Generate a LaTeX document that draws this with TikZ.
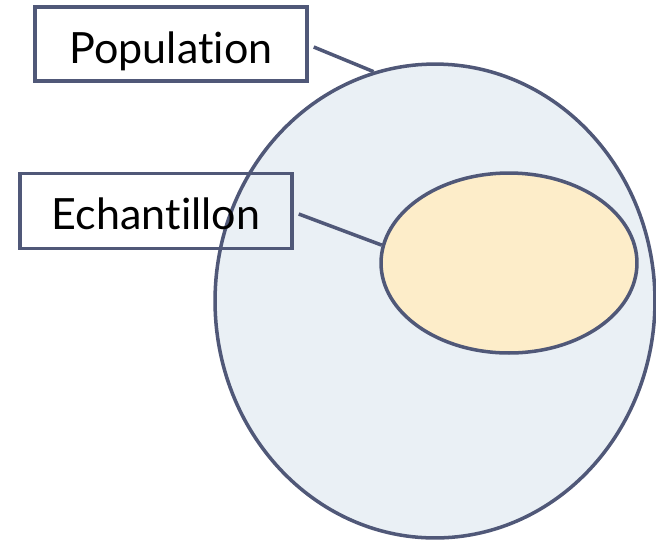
\documentclass[tikz,border=0pt]{standalone}
\usepackage{fontspec}
\setmainfont{Lato}[Ligatures=NoCommon]
\usepackage{tikz}
\usetikzlibrary{shapes.geometric, positioning}

\definecolor{edge}{HTML}{505878}
\definecolor{popfill}{HTML}{EAF0F5}
\definecolor{samplefill}{HTML}{FDEDC9}

\begin{document}
\begin{tikzpicture}[
  x=0.02cm, y=-0.02cm,
  every node/.style={font=\fontsize{24.5}{28}\selectfont},
  set/.style={ellipse, draw=edge, line width=2pt, inner sep=0pt},
  label box/.style={rectangle, draw=edge, line width=2pt, minimum width=5.44cm, inner ysep=0pt, text height=1.12cm, text depth=0.36cm, align=center},
  link/.style={draw=edge, line width=2pt}
]
\useasboundingbox (0,0) rectangle (656,539);

% Sets
\node[set, fill=popfill, minimum width=8.8cm, minimum height=9.48cm] (population) at (435,301) {};
\node[set, fill=samplefill, minimum width=5.12cm, minimum height=3.6cm] (sample) at (509,263) {};

% Labels
\node[label box] (poplabel) at (171,44) {Population};
\node[label box, text depth=0.38cm] (samplelabel) at (156,211) {Echantillon};

% Links
\draw[link] ([xshift=0.1cm,yshift=-0.06cm]poplabel.east) -- (population.105);
\draw[link] ([xshift=0.1cm,yshift=-0.06cm]samplelabel.east) -- (sample.172);

\end{tikzpicture}
\end{document}
